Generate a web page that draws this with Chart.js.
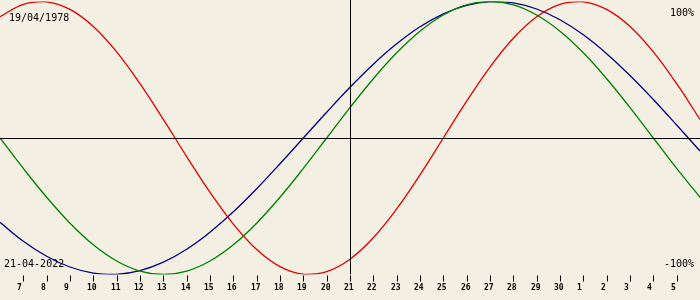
<!DOCTYPE html>
<html>
<head>
<meta charset="utf-8">
<script src="https://cdn.jsdelivr.net/npm/chart.js@4"></script>
<style>
  html, body { margin: 0; padding: 0; background: #f3efe3; }
  #wrap { width: 700px; height: 300px; }
</style>
</head>
<body>
<div id="wrap"><canvas id="bio" width="700" height="300"></canvas></div>
<script>
// ── DATA ─────────────────────────────────────────────────────────
// day of month, April 6 .. May 6 (continuous index, 31 = May 1)
const days = [6, 7, 8, 9, 10, 11, 12, 13, 14, 15, 16, 17, 18, 19, 20, 21,
              22, 23, 24, 25, 26, 27, 28, 29, 30, 31, 32, 33, 34, 35, 36];
const tickDays   = [7, 8, 9, 10, 11, 12, 13, 14, 15, 16, 17, 18, 19, 20, 21,
                    22, 23, 24, 25, 26, 27, 28, 29, 30, 31, 32, 33, 34, 35];
const tickLabels = ["7", "8", "9", "10", "11", "12", "13", "14", "15", "16", "17",
                    "18", "19", "20", "21", "22", "23", "24", "25", "26", "27",
                    "28", "29", "30", "1", "2", "3", "4", "5"];
const today = 21;

// percent values (red / green / blue)
const physical = [88.8, 97.9, 99.8, 94.2, 81.7, 63.1, 39.8, 13.6, -13.6, -39.8, -63.1,
                  -81.7, -94.2, -99.8, -97.9, -88.8, -73.1, -52.0, -27.0, 0, 27.0,
                  52.0, 73.1, 88.8, 97.9, 99.8, 94.2, 81.7, 63.1, 39.8, 13.6];
const emotional = [0, -22.3, -43.4, -62.4, -78.2, -90.1, -97.5, -100, -97.5, -90.1, -78.2,
                   -62.4, -43.4, -22.3, 0, 22.3, 43.4, 62.4, 78.2, 90.1, 97.5,
                   100, 97.5, 90.1, 78.2, 62.4, 43.4, 22.3, 0, -22.3, -43.4];
const intellectual = [-61.8, -75.6, -86.6, -94.5, -99.0, -99.9, -97.2, -91.0, -81.5, -69.0, -54.1,
                      -37.2, -18.9, 0, 18.9, 37.2, 54.1, 69.0, 81.5, 91.0, 97.2,
                      99.9, 99.0, 94.5, 86.6, 75.6, 61.8, 45.8, 28.2, 9.5, -9.5];

const birthText = "19/04/1978";
const dateText  = "21-04-2022";

const BG = "#f3efe3";
const mono = "'DejaVu Sans Mono', monospace";

const series = (vals, color) => ({
  data: days.map((d, i) => ({ x: d, y: vals[i] })),
  borderColor: color,
  borderWidth: 1.3,
  pointRadius: 0,
  tension: 0.4,
  fill: false,
});

// ── OVERLAY: background, axes lines, ticks, texts ────────────────
const overlay = {
  id: "overlay",
  beforeDraw(chart) {
    const c = chart.ctx;
    c.save();
    c.fillStyle = BG;
    c.fillRect(0, 0, chart.width, chart.height);
    c.restore();
  },
  afterDatasetsDraw(chart) {
    const c = chart.ctx;
    const xs = chart.scales.x, ys = chart.scales.y;
    const area = chart.chartArea;
    c.save();
    c.strokeStyle = "#000";
    c.lineWidth = 1;

    const y0 = Math.round(ys.getPixelForValue(0)) + 0.5;
    c.beginPath();
    c.moveTo(0, y0);
    c.lineTo(chart.width, y0);
    c.stroke();

    const xt = Math.round(xs.getPixelForValue(today)) + 0.5;
    c.beginPath();
    c.moveTo(xt, 0);
    c.lineTo(xt, area.bottom);
    c.stroke();

    // day ticks + labels
    c.font = "bold 8px " + mono;
    c.fillStyle = "#000";
    c.textBaseline = "alphabetic";
    c.textAlign = "left";
    tickDays.forEach((d, i) => {
      const x = Math.round(xs.getPixelForValue(d)) + 0.5;
      c.beginPath();
      c.moveTo(x, area.bottom + 1);
      c.lineTo(x, area.bottom + 7);
      c.stroke();
      c.fillText(tickLabels[i], x - 6.5, area.bottom + 15);
    });

    c.font = "10px " + mono;
    c.fillText(birthText, 9, 21);
    c.fillText(dateText, 4, 267);
    c.textAlign = "right";
    c.fillText("100%", 694, 16);
    c.fillText("-100%", 694, 267);
    c.restore();
  },
};

new Chart(document.getElementById("bio"), {
  type: "line",
  data: {
    datasets: [
      series(physical, "#e00000"),
      series(emotional, "#008000"),
      series(intellectual, "#000080"),
    ],
  },
  options: {
    responsive: false,
    animation: false,
    layout: { padding: { top: 1.5, bottom: 25.5, left: 0, right: 0 } },
    plugins: { legend: { display: false }, tooltip: { enabled: false } },
    scales: {
      x: { type: "linear", min: 6, max: 36, display: false },
      y: { min: -100, max: 100, display: false },
    },
  },
  plugins: [overlay],
});
</script>
</body>
</html>
